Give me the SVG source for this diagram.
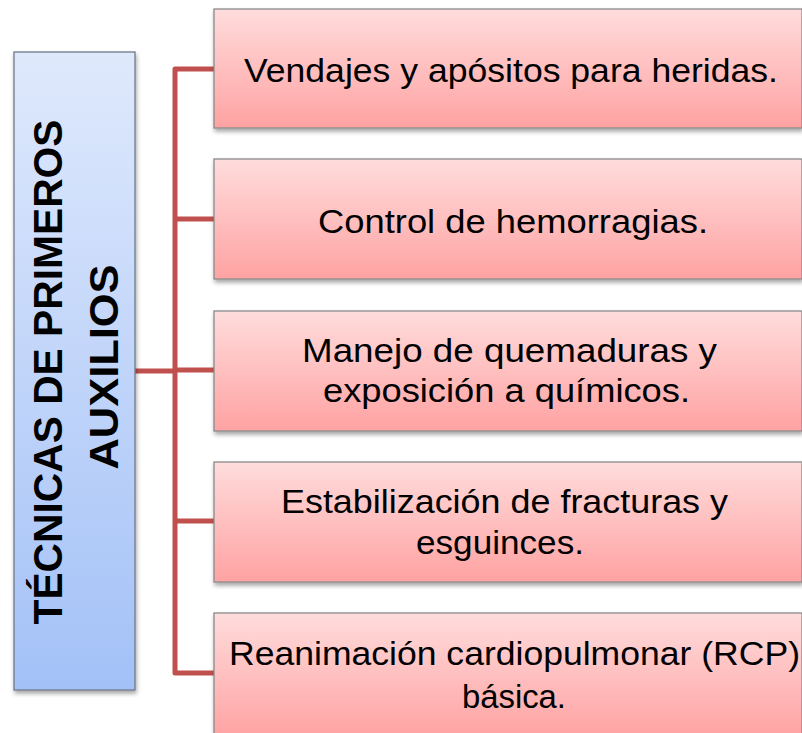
<svg xmlns="http://www.w3.org/2000/svg" width="802" height="733" viewBox="0 0 802 733">
<defs>
<linearGradient id="gBlue" x1="0" y1="0" x2="0" y2="1">
<stop offset="0" stop-color="#dfe9fc"/>
<stop offset="1" stop-color="#a3c1f7"/>
</linearGradient>
<linearGradient id="gRed" x1="0" y1="0" x2="0" y2="1">
<stop offset="0" stop-color="#ffdcdc"/>
<stop offset="1" stop-color="#ffa2a2"/>
</linearGradient>
<filter id="sh" x="-10%" y="-10%" width="120%" height="130%">
<feDropShadow dx="1" dy="3" stdDeviation="2" flood-color="#000" flood-opacity="0.35"/>
</filter>
</defs>
<style>
.box{fill:url(#gRed);stroke:#8a8a8a;stroke-width:1.3;filter:url(#sh)}
.main{fill:url(#gBlue);stroke:#6f7a8c;stroke-width:1.3;filter:url(#sh)}
.t{font-family:"Liberation Sans",Arial,sans-serif;font-size:34px;fill:#000}
.m{font-family:"Liberation Sans",Arial,sans-serif;font-weight:bold;font-size:41px;fill:#000;text-anchor:middle}
.c{fill:none;stroke:#c0504d;stroke-width:5;stroke-linejoin:round}
</style>
<g id="connectors">
<path class="c" d="M215,69 H175 V673 H215"/>
<path class="c" d="M175,219 H215 M175,370 H215 M175,521 H215 M135,371 H175"/>
</g>
<g id="root">
<rect class="main" x="14" y="52" width="121" height="638"/>
<text class="m" transform="translate(62,372) rotate(-90)" textLength="505" lengthAdjust="spacingAndGlyphs">TÉCNICAS DE PRIMEROS</text>
<text class="m" transform="translate(118,367) rotate(-90)" textLength="205" lengthAdjust="spacingAndGlyphs">AUXILIOS</text>
</g>
<g id="n1">
<rect class="box" x="214" y="9" width="588" height="119"/>
<text class="t" x="244" y="82" textLength="534" lengthAdjust="spacingAndGlyphs">Vendajes y apósitos para heridas.</text>
</g>
<g id="n2">
<rect class="box" x="214" y="159" width="588" height="120"/>
<text class="t" x="318" y="233" textLength="390" lengthAdjust="spacingAndGlyphs">Control de hemorragias.</text>
</g>
<g id="n3">
<rect class="box" x="214" y="311" width="588" height="120"/>
<text class="t" x="302" y="362" textLength="415" lengthAdjust="spacingAndGlyphs">Manejo de quemaduras y</text>
<text class="t" x="323" y="402" textLength="367" lengthAdjust="spacingAndGlyphs">exposición a químicos.</text>
</g>
<g id="n4">
<rect class="box" x="214" y="462" width="588" height="120"/>
<text class="t" x="281" y="513" textLength="447" lengthAdjust="spacingAndGlyphs">Estabilización de fracturas y</text>
<text class="t" x="416" y="554" textLength="168" lengthAdjust="spacingAndGlyphs">esguinces.</text>
</g>
<g id="n5">
<rect class="box" x="214" y="613" width="588" height="125"/>
<text class="t" x="229" y="665" textLength="571" lengthAdjust="spacingAndGlyphs">Reanimación cardiopulmonar (RCP)</text>
<text class="t" x="462" y="708" textLength="104" lengthAdjust="spacingAndGlyphs">básica.</text>
</g>
</svg>
